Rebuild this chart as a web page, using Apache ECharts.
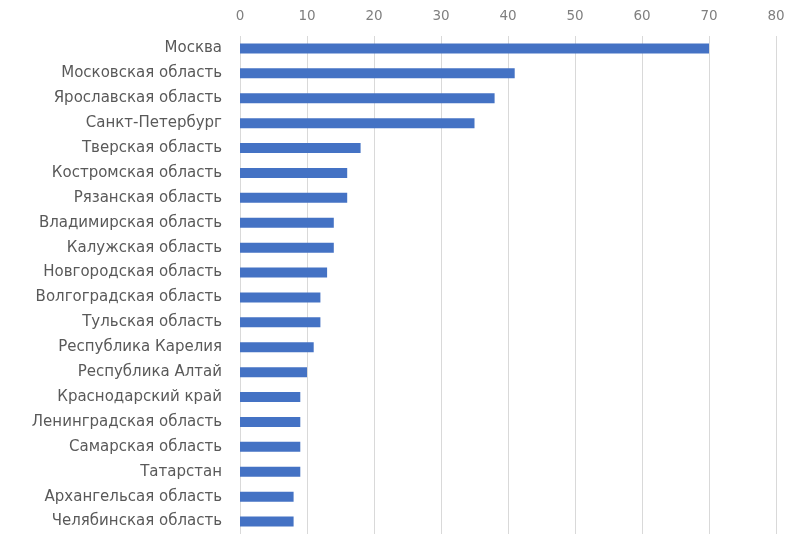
<!DOCTYPE html>
<html><head><meta charset="utf-8">
<script src="https://cdn.jsdelivr.net/npm/echarts@6/dist/echarts.min.js"></script>
<style>html,body{margin:0;padding:0;background:#fff}#c{width:797px;height:546px}</style>
</head><body><div id="c"></div>
<script>
const categories = ["Москва","Московская область","Ярославская область","Санкт-Петербург","Тверская область","Костромская область","Рязанская область","Владимирская область","Калужская область","Новгородская область","Волгоградская область","Тульская область","Республика Карелия","Республика Алтай","Краснодарский край","Ленинградская область","Самарская область","Татарстан","Архангельсая область","Челябинская область"];
const values = [70,41,38,35,18,16,16,14,14,13,12,12,11,10,9,9,9,9,8,8];
const xMin = 0, xMax = 80, xStep = 10;

const chart = echarts.init(document.getElementById('c'), null, {renderer:'canvas'});
chart.setOption({
  animation:false,
  backgroundColor:'#ffffff',
  grid:{left:240,right:21,top:36,bottom:12,containLabel:false},
  xAxis:{type:'value',position:'top',min:xMin,max:xMax,interval:xStep,
    axisLine:{show:false},axisTick:{show:false},
    axisLabel:{color:'#7f7f7f',fontSize:13.5,fontFamily:'DejaVu Sans',margin:13},
    splitLine:{lineStyle:{color:'#d9d9d9',width:1}}},
  yAxis:{type:'category',inverse:true,data:categories,
    axisLine:{show:false},axisTick:{show:false},
    axisLabel:{color:'#595959',fontSize:15,fontFamily:'DejaVu Sans',margin:18}},
  series:[{type:'bar',data:values,barWidth:10,itemStyle:{color:'#4472c4'}}]
});
</script></body></html>
